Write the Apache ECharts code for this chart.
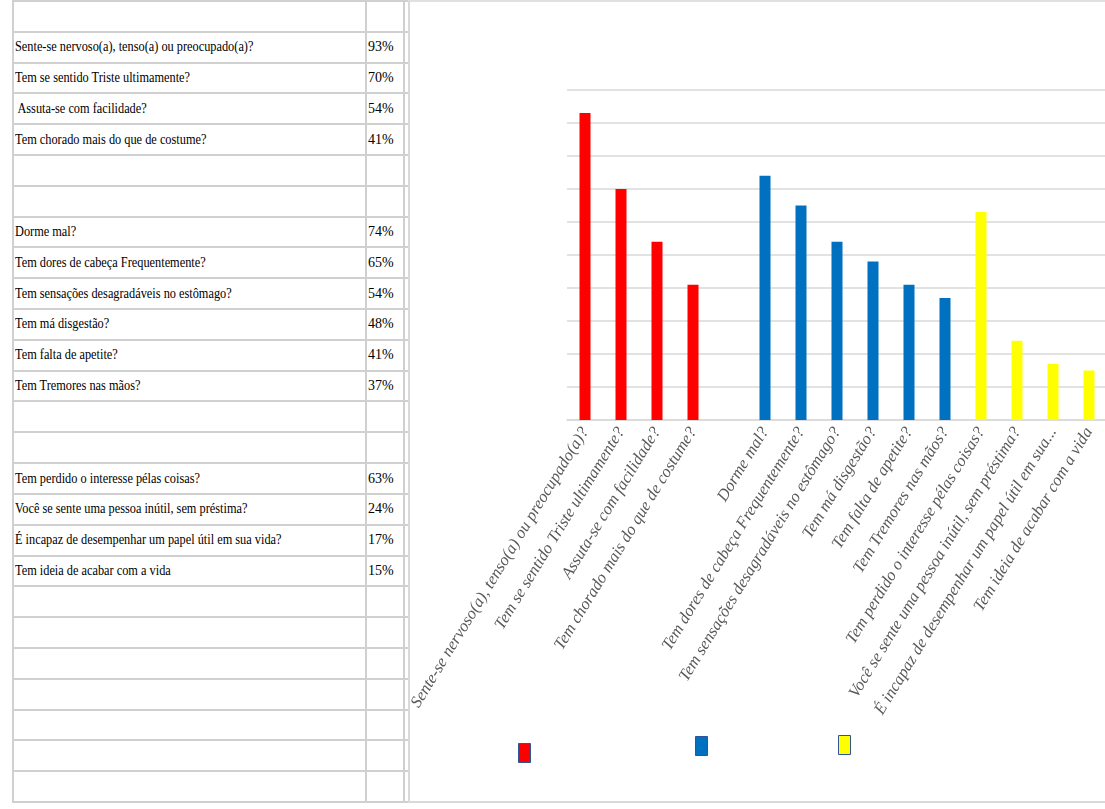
<!DOCTYPE html>
<html>
<head>
<meta charset="utf-8">
<title>Sintomas</title>
<script src="https://cdn.jsdelivr.net/npm/echarts@6/dist/echarts.min.js"></script>
<style>
    body{margin:0;background:#fff;}
    #tabela{
        position:absolute;left:12px;top:0;width:396px;height:803px;
        display:grid;
        grid-template-columns:353px 38px 5px;
        grid-template-rows:repeat(26,1fr);
        border-top:2px solid #d0d0d0;border-left:2px solid #d0d0d0;
        box-sizing:border-box;
        font-family:"Liberation Serif",serif;font-size:14px;color:#000;
    }
    #tabela div{
        border-right:2px solid #d0d0d0;border-bottom:2px solid #d0d0d0;
        box-sizing:border-box;display:flex;align-items:center;
        white-space:pre;overflow:hidden;padding-left:1px;
    }
    #tabela span.txt{display:inline-block;transform:scaleX(0.88);transform-origin:left center;}
    #graficoBox{
        position:absolute;left:408px;top:0;width:697px;height:803px;
        border-left:2px solid #d9d9d9;border-top:2px solid #e0e0e0;border-bottom:2px solid #d9d9d9;
        box-sizing:border-box;
    }
    #grafico{width:100%;height:100%;}
</style>
</head>
<body>
<div id="tabela"></div>
<div id="graficoBox"><div id="grafico"></div></div>
<script>
    // perguntas e percentuais por grupo
    var emocionalNomes = ['Sente-se nervoso(a), tenso(a) ou preocupado(a)?', 'Tem se sentido Triste ultimamente?', ' Assuta-se com facilidade?', 'Tem chorado mais do que de costume?'];
    var emocionalValores = [93, 70, 54, 41];
    var somaticoNomes = ['Dorme mal?', 'Tem dores de cabeça Frequentemente?', 'Tem sensações desagradáveis no estômago?', 'Tem má disgestão?', 'Tem falta de apetite?', 'Tem Tremores nas mãos?'];
    var somaticoValores = [74, 65, 54, 48, 41, 37];
    var depressivoNomes = ['Tem perdido o interesse pélas coisas?', 'Você se sente uma pessoa inútil, sem préstima?', 'É incapaz de desempenhar um papel útil em sua vida?', 'Tem ideia de acabar com a vida'];
    var depressivoValores = [63, 24, 17, 15];
    var cores = ['#ff0000', '#0070c0', '#ffff00'];

    // tabela da esquerda
    var linhas = [['', '']];
    function addGrupo(nomes, valores){
        for(var i=0;i<nomes.length;i++){
            linhas.push([nomes[i], valores[i] + '%']);
        }
    }
    addGrupo(emocionalNomes, emocionalValores);
    linhas.push(['', ''], ['', '']);
    addGrupo(somaticoNomes, somaticoValores);
    linhas.push(['', ''], ['', '']);
    addGrupo(depressivoNomes, depressivoValores);
    while(linhas.length < 26) linhas.push(['', '']);

    var tabela = document.getElementById('tabela');
    var html = '';
    for(var r=0;r<linhas.length;r++){
        html += '<div><span class="txt">' + linhas[r][0] + '</span></div>';
        html += '<div><span>' + linhas[r][1] + '</span></div>';
        html += '<div></div>';
    }
    tabela.innerHTML = html;

    // categorias do grafico (um espaco vazio entre o 1o e o 2o grupo)
    var categorias = emocionalNomes.concat([''], somaticoNomes, depressivoNomes);
    function serieDados(inicio, valores){
        var arr = [];
        for(var i=0;i<categorias.length;i++) arr.push('-');
        for(var k=0;k<valores.length;k++) arr[inicio + k] = valores[k];
        return arr;
    }
    var dadosEmocional = serieDados(0, emocionalValores);
    var dadosSomatico = serieDados(emocionalNomes.length + 1, somaticoValores);
    var dadosDepressivo = serieDados(emocionalNomes.length + 1 + somaticoNomes.length, depressivoValores);

    function legenda(nome, left, top){
        return {
            data: [nome],
            left: left,
            top: top,
            padding: 0,
            itemWidth: 12,
            itemHeight: 19,
            icon: 'rect',
            formatter: function(){ return ''; },
            itemStyle: { borderColor: '#2f5597', borderWidth: 1 },
            selectedMode: false
        };
    }

    var chart = echarts.init(document.getElementById('grafico'));
    var option = {
        animation: false,
        grid: { left: 157, top: 88, width: 540, height: 330, outerBoundsMode: 'none', containLabel: false },
        legend: [
            legenda('Grupo 1', 108, 741),
            legenda('Grupo 2', 285, 734),
            legenda('Grupo 3', 428, 733)
        ],
        xAxis: {
            type: 'category',
            data: categorias,
            axisLine: { lineStyle: { color: '#d9d9d9', width: 1.5 } },
            axisTick: { show: false },
            axisLabel: {
                interval: 0,
                rotate: 58.5,
                color: '#595959',
                fontFamily: 'Liberation Serif',
                fontStyle: 'italic',
                fontSize: 16.6,
                margin: 9,
                width: 342,
                overflow: 'truncate',
                ellipsis: '...'
            }
        },
        yAxis: {
            type: 'value',
            min: 0,
            max: 100,
            interval: 10,
            axisLabel: { show: false },
            axisLine: { show: false },
            axisTick: { show: false },
            splitLine: { lineStyle: { color: '#d9d9d9', width: 1.5 } }
        },
        series: [
            { name: 'Grupo 1', type: 'bar', data: dadosEmocional, barWidth: 11, barGap: '-100%', itemStyle: { color: cores[0] } },
            { name: 'Grupo 2', type: 'bar', data: dadosSomatico, barWidth: 11, barGap: '-100%', itemStyle: { color: cores[1] } },
            { name: 'Grupo 3', type: 'bar', data: dadosDepressivo, barWidth: 11, barGap: '-100%', itemStyle: { color: cores[2] } }
        ]
    };
    chart.setOption(option);
</script>
</body>
</html>
